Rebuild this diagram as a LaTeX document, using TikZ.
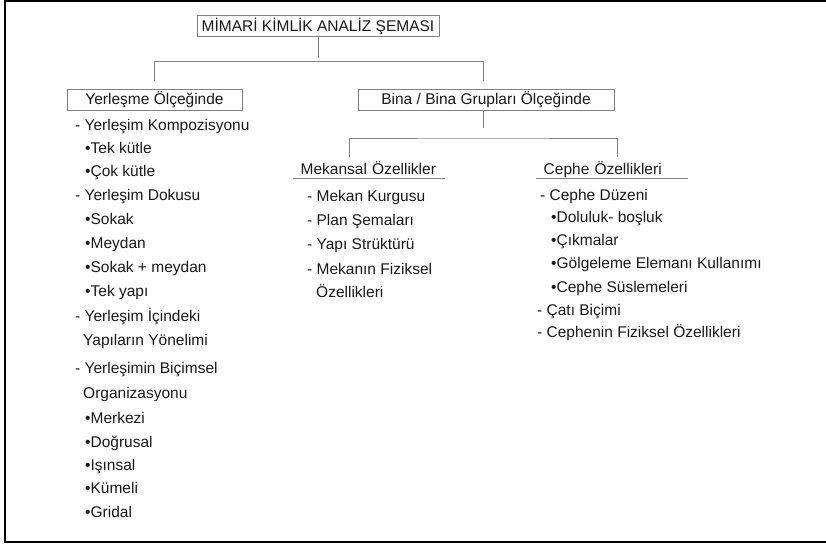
\documentclass[tikz,border=0pt]{standalone}
\usepackage{fontspec}
\setmainfont{Liberation Sans}
\usetikzlibrary{positioning}
\definecolor{lineg}{RGB}{130,130,130}
\definecolor{txt}{RGB}{25,25,25}

\begin{document}
\begin{tikzpicture}[x=1pt, y=-1pt, font=\fontsize{15.5}{18}\selectfont, text=txt,
    box/.style = {draw=lineg, line width=0.9pt, inner sep=0pt, minimum height=21pt},
    hdr/.style = {anchor=base west, inner xsep=7.5pt, inner ysep=0pt, text width=137pt, align=left},
    item/.style = {anchor=base west, inner sep=0pt, yshift=-5pt},
    link/.style = {draw=lineg, line width=0.9pt}]

    \useasboundingbox (0,0) rectangle (826,544);
    % outer frame, open on the right
    \draw[line width=2pt] (826,1) -- (5,1) -- (5,542) -- (826,542);

    \node[box, minimum width=242pt] (title) at (318,26) {MİMARİ KİMLİK ANALİZ ŞEMASI};
    \node[box, minimum width=175pt] (yer) at (154.5,99.5) {Yerleşme Ölçeğinde};
    \node[box, minimum width=256pt] (bina) at (486,99.5) {Bina / Bina Grupları Ölçeğinde};

    \node[hdr] (mek) at (293,174) {Mekansal Özellikler};
    \node[hdr] (cep) at (536,174) {Cephe Özellikleri};
    \draw[link] ([yshift=-4pt]mek.base west) -- ([yshift=-4pt]mek.base east);
    \draw[link] ([yshift=-4pt]cep.base west) -- ([yshift=-4pt]cep.base east);

    % connectors
    \coordinate (t-end) at (318,58);
    \coordinate (bar1) at (318,61.5);
    \coordinate (yl) at (154,81);
    \coordinate (yr) at (483,81);
    \draw[link] (title.south) -- (t-end);
    \draw[link] (yl) |- (bar1) -| (yr);

    \coordinate (b-end) at (483,128);
    \coordinate (bar2) at (483,138);
    \coordinate (ml) at (349,157);
    \coordinate (cr) at (617,157);
    \draw[link] (b-end |- bina.south) -- (b-end);
    \draw[link] (ml) |- (bar2) -| (cr);

    % Yerlesme list
    \foreach \y/\x/\txt [count=\i] in {125/75/- Yerleşim Kompozisyonu, 148/85/•Tek kütle,
        171/85/•Çok kütle, 195/75/- Yerleşim Dokusu, 219/85/•Sokak, 243/85/•Meydan,
        267/85/•Sokak + meydan, 291/85/•Tek yapı, 316/75/- Yerleşim İçindeki,
        340/83/Yapıların Yönelimi, 368/75/- Yerleşimin Biçimsel, 393/83/Organizasyonu,
        418/85/•Merkezi, 442/85/•Doğrusal, 465/85/•Işınsal, 488/85/•Kümeli, 512/85/•Gridal}
        \node[item] (yer-\i) at (\x,\y) {\txt};

    % Mekansal list
    \foreach \y/\x/\txt [count=\i] in {196/307/- Mekan Kurgusu, 220/307/- Plan Şemaları,
        244/307/- Yapı Strüktürü, 269/307/- Mekanın Fiziksel, 292/316/Özellikleri}
        \node[item] (mek-\i) at (\x,\y) {\txt};

    % Cephe list
    \foreach \y/\x/\txt [count=\i] in {195/540/- Cephe Düzeni, 217/551/•Doluluk- boşluk,
        240/551/•Çıkmalar, 263/551/•Gölgeleme Elemanı Kullanımı, 287/551/•Cephe Süslemeleri,
        310/537/- Çatı Biçimi, 332/537/- Cephenin Fiziksel Özellikleri}
        \node[item] (cep-\i) at (\x,\y) {\txt};
\end{tikzpicture}
\end{document}
